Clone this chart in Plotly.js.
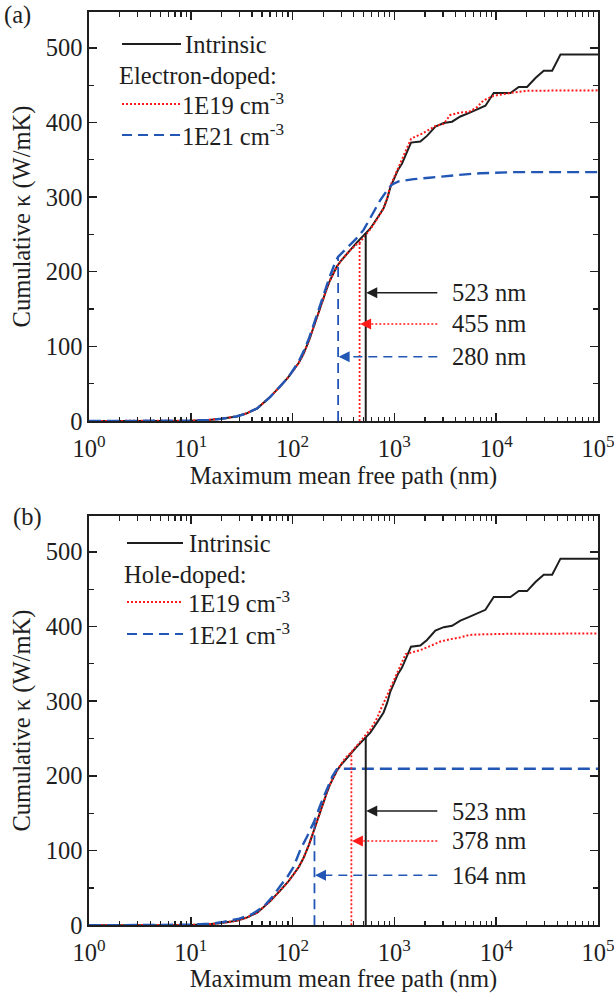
<!DOCTYPE html>
<html><head><meta charset="utf-8">
<script src="https://cdn.plot.ly/plotly-3.0.1.min.js"></script>
<style>html,body{margin:0;padding:0;background:#fff}#chart{width:614px;height:993px}</style>
</head><body><div id="chart"></div>
<script>
// ---------------- DATA ----------------
// Intrinsic (same curve in both panels)
const intrinsicX = [1, 5, 10, 15, 20, 28, 35, 45, 60, 75, 90, 102, 115, 128, 145, 161, 180, 201, 220, 234, 250, 272, 300, 330, 368, 420, 470, 523, 580, 680, 783, 850, 912, 982, 1080, 1188, 1320, 1456, 1798, 2090, 2525, 3048, 3683, 4446, 5370, 6490, 7834, 9460, 13800, 16650, 20100, 24300, 29300, 35460, 42800, 100000];
const intrinsicY = [0, 0.2, 0.5, 1.5, 3, 6, 10, 17, 32, 46, 58, 68, 78, 90, 108, 126, 146, 166, 180, 189, 198, 207, 215, 222, 229, 238, 245, 252, 258, 272, 285, 298, 313, 323, 336, 345, 360, 373, 374.5, 382, 394.6, 399.2, 401, 408, 412.6, 418, 422.4, 439.5, 439.5, 447.5, 447.5, 459.6, 469.4, 469.4, 490.9, 490.9];

// (a) Electron-doped 1E19 cm-3
const e19X = [1, 5, 10, 15, 20, 28, 35, 45, 60, 75, 90, 102, 115, 128, 145, 161, 180, 201, 220, 234, 250, 272, 300, 330, 368, 420, 455, 523, 580, 680, 783, 850, 912, 982, 1080, 1188, 1320, 1456, 1550, 1937, 2515, 3048, 3530, 4446, 5370, 6490, 7500, 9460, 13800, 20100, 100000];
const e19Y = [0, 0.2, 0.5, 1.5, 3, 6, 10, 17, 32, 46, 58, 68, 78, 90, 108, 126, 146, 166, 180, 189, 198, 207, 215, 222, 229, 236, 239, 249, 257, 271, 285, 299, 315, 325, 338, 350, 366, 378, 380, 386, 395, 398, 410, 413.4, 414, 420.6, 429.5, 435.8, 439.5, 442.5, 443];

// (a) Electron-doped 1E21 cm-3
const e21X = [1, 5, 10, 15, 20, 28, 35, 45, 60, 75, 90, 102, 115, 128, 145, 161, 180, 201, 217, 234, 250, 263, 280, 320, 368, 420, 498, 600, 727, 877, 950, 1100, 1550, 2200, 3290, 5000, 7000, 14900, 100000];
const e21Y = [0, 0.2, 0.5, 1.5, 3, 6, 10, 17, 32, 46, 58, 69, 80, 93, 111, 129, 150, 170, 182, 195, 206, 213, 220, 228, 236, 244, 256, 275, 296, 312, 317, 321, 324, 326, 328.5, 330.5, 332, 333.4, 333.4];

// (b) Hole-doped 1E19 cm-3
const h19X = [1, 5, 10, 15, 20, 28, 35, 45, 60, 75, 90, 102, 115, 128, 145, 161, 180, 201, 220, 234, 250, 272, 300, 330, 378, 420, 470, 523, 580, 680, 727, 850, 982, 1150, 1290, 1433, 1798, 2255, 2832, 3530, 4446, 5370, 6970, 14900, 100000];
const h19Y = [0, 0.2, 0.5, 1.5, 3, 6, 10, 17, 32, 46, 58, 68, 78, 90, 108, 126, 146, 166, 180, 189, 198, 207, 216, 224, 232, 240, 247, 255, 262, 278, 288, 308, 328, 348, 363, 365, 368.5, 374, 380, 383, 385.5, 388.6, 389.5, 390.4, 390.6];

// (b) Hole-doped 1E21 cm-3
const h21X = [1, 5, 10, 15, 20, 30, 40, 52, 65, 75, 90, 102, 119, 140, 164, 190, 217, 245, 272, 300, 1000, 100000];
const h21Y = [0, 0.3, 0.8, 2, 4, 9, 15, 25, 40, 52, 66, 78, 101, 120, 140, 163, 182, 199, 209, 209.5, 209.5, 209.5];

// Marked maximum mean free paths (nm), curve value at the mark, arrow level
const markNmA = [523, 455, 280];
const markTopA = [252, 239, 220];
const markArrowA = [172, 130, 86];
const markLabelA = ['523 nm', '455 nm', '280 nm'];

const markNmB = [523, 378, 164];
const markTopB = [252, 232, 140];
const markArrowB = [153, 113, 67];
const markLabelB = ['523 nm', '378 nm', '164 nm'];

const xTickVals = [1, 10, 100, 1000, 10000, 100000];
const xTickText = ['10<sup>0</sup>', '10<sup>1</sup>', '10<sup>2</sup>', '10<sup>3</sup>', '10<sup>4</sup>', '10<sup>5</sup>'];

// ---------------- STYLE ----------------
const FONT = '"Liberation Serif", "Times New Roman", Times, serif';
const FS = 24.5;
const INK = '#1e1e1e';
const RED = '#ff1a1a';
const BLUE = '#2257b5';
const W = 614, H = 993;
const px = v => v / W;
const py = v => 1 - v / H;

const styles = [
  {color: INK, dash: 'solid', width: 2},
  {color: RED, dash: '2px,2px', width: 2},
  {color: BLUE, dash: '12px,6px', width: 2.4}
];

const minorVals = [];
for (let d = 1; d < 100000; d *= 10) for (let k = 2; k <= 9; k++) minorVals.push(k * d);

const traces = [];
function addPanel(xa, ya, curves, markNm, markTop, markArrow) {
  curves.forEach((c, i) => {
    traces.push({x: c[0], y: c[1], xaxis: xa, yaxis: ya, type: 'scatter', mode: 'lines',
      line: {color: styles[i].color, dash: styles[i].dash, width: styles[i].width}, hoverinfo: 'skip'});
  });
  markNm.forEach((m, i) => {
    const st = styles[i];
    traces.push({x: [m, m], y: [0, markTop[i]], xaxis: xa, yaxis: ya, type: 'scatter', mode: 'lines',
      line: {color: st.color, dash: i === 2 ? '10px,6px' : st.dash, width: i === 0 ? 2 : 1.8}, hoverinfo: 'skip'});
    traces.push({x: [2640, m * 1.05], y: [markArrow[i], markArrow[i]], xaxis: xa, yaxis: ya, type: 'scatter', mode: 'lines',
      line: {color: st.color, dash: i === 2 ? '9px,6px' : st.dash, width: 1.5}, hoverinfo: 'skip'});
    // arrowhead: tip of the arrow symbol sits on the point
    traces.push({x: [m * 1.012], y: [markArrow[i]], xaxis: xa, yaxis: ya, type: 'scatter', mode: 'markers',
      marker: {symbol: 'arrow-left', size: 11, color: st.color, line: {width: 0}}, hoverinfo: 'skip'});
  });
}
addPanel('x', 'y', [[intrinsicX, intrinsicY], [e19X, e19Y], [e21X, e21Y]], markNmA, markTopA, markArrowA);
addPanel('x2', 'y2', [[intrinsicX, intrinsicY], [h19X, h19Y], [h21X, h21Y]], markNmB, markTopB, markArrowB);

function xAxis(domainAnchor) {
  return {
    domain: [89 / W, 598 / W], anchor: domainAnchor, type: 'log', range: [0, 5.00001],
    tickmode: 'array', tickvals: xTickVals, ticktext: xTickText,
    ticks: 'inside', ticklen: 8, tickwidth: 1.5, tickcolor: INK,
    ticklabeloverflow: 'allow', ticklabelstandoff: 5,
    minor: {tickmode: 'array', tickvals: minorVals, ticks: 'inside', ticklen: 4.5, tickwidth: 1.2, tickcolor: INK},
    showline: true, linecolor: INK, linewidth: 1.6, mirror: 'allticks',
    showgrid: false, zeroline: false,
    tickfont: {family: FONT, size: FS, color: INK},
    title: {text: 'Maximum mean free path (nm)', font: {family: FONT, size: FS, color: INK}, standoff: 0}
  };
}
function yAxis(domain, anchor) {
  return {
    domain: domain, anchor: anchor, range: [0, 548],
    tickmode: 'linear', tick0: 0, dtick: 100,
    ticks: 'inside', ticklen: 8, tickwidth: 1.5, tickcolor: INK,
    minor: {dtick: 50, ticks: 'inside', ticklen: 5, tickwidth: 1.2, tickcolor: INK},
    showline: true, linecolor: INK, linewidth: 1.6, mirror: 'allticks',
    showgrid: false, zeroline: false,
    tickfont: {family: FONT, size: FS, color: INK},
    title: {text: 'Cumulative κ (W/mK)', font: {family: FONT, size: FS, color: INK}, standoff: 8}
  };
}

const annotations = [];
const shapes = [];
const tf = {family: FONT, size: FS, color: INK};

// panel labels
annotations.push({xref: 'paper', yref: 'paper', x: px(3), y: py(0), xanchor: 'left', yanchor: 'top', borderpad: 0, text: '(a)', showarrow: false, font: tf});
annotations.push({xref: 'paper', yref: 'paper', x: px(12), y: py(502), xanchor: 'left', yanchor: 'top', borderpad: 0, text: '(b)', showarrow: false, font: tf});

// legends
function legend(items, header) {
  // items: [y, x0, x1, textX, text, styleIndex]
  items.forEach(it => {
    const st = styles[it[5]];
    shapes.push({type: 'line', xref: 'paper', yref: 'paper', x0: px(it[1]), x1: px(it[2]), y0: py(it[0]), y1: py(it[0]),
      line: {color: st.color, dash: it[5] === 2 ? '10px,6px' : st.dash, width: 2}});
    annotations.push({xref: 'paper', yref: 'paper', x: px(it[3]), y: py(it[0]), xanchor: 'left', yanchor: 'middle',
      text: it[4], showarrow: false, font: tf});
  });
  annotations.push({xref: 'paper', yref: 'paper', x: px(header[1]), y: py(header[0]), xanchor: 'left', yanchor: 'middle',
    text: header[2], showarrow: false, font: tf});
}
legend([[44, 122, 181, 183, 'Intrinsic', 0], [104, 122, 180, 180, '1E19 cm<sup>-3</sup>', 1], [135, 122, 180, 180, '1E21 cm<sup>-3</sup>', 2]],
  [76, 117, 'Electron-doped:']);
legend([[543, 127, 183, 187, 'Intrinsic', 0], [602, 127, 183, 186, '1E19 cm<sup>-3</sup>', 1], [634, 127, 183, 186, '1E21 cm<sup>-3</sup>', 2]],
  [574, 122, 'Hole-doped:']);

// value labels
function marks(xa, ya, markArrow, labels) {
  markArrow.forEach((yv, i) => {
    annotations.push({xref: xa, yref: ya, x: 3.545, y: yv, xanchor: 'left', yanchor: 'middle',
      text: labels[i], showarrow: false, font: tf});
  });
}
marks('x', 'y', markArrowA, markLabelA);
marks('x2', 'y2', markArrowB, markLabelB);

const layout = {
  width: W, height: H, margin: {l: 0, r: 0, t: 0, b: 0},
  paper_bgcolor: '#fff', plot_bgcolor: '#fff', showlegend: false, hovermode: false,
  font: {family: FONT, size: FS, color: INK},
  xaxis: xAxis('y'), yaxis: yAxis([1 - 421 / H, 1 - 12 / H], 'x'),
  xaxis2: xAxis('y2'), yaxis2: yAxis([1 - 925.3 / H, 1 - 516 / H], 'x2'),
  annotations: annotations, shapes: shapes
};
Plotly.newPlot('chart', traces, layout, {displayModeBar: false, staticPlot: true});
</script>
</body></html>
